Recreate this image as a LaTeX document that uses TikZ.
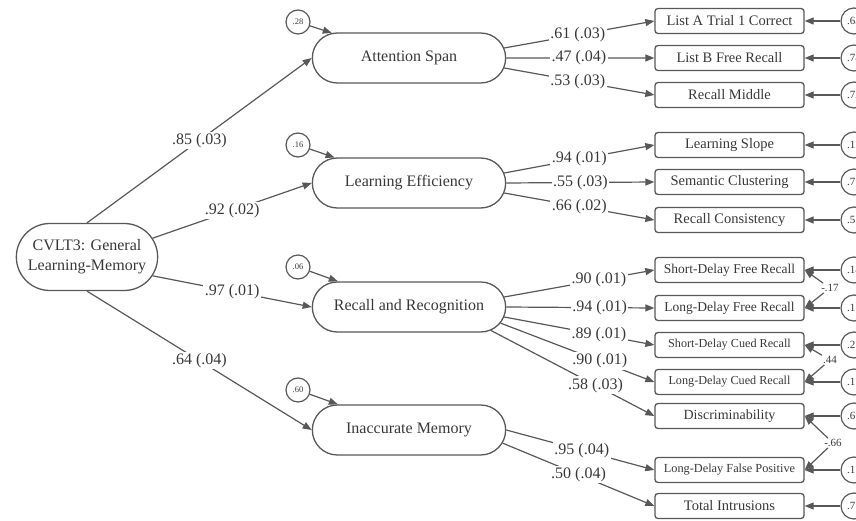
\documentclass[tikz,border=0pt]{standalone}
\usepackage{fontspec}
\setmainfont{Liberation Serif}
\usetikzlibrary{shapes.misc,arrows.meta}
\definecolor{ink}{HTML}{383838}
\definecolor{edge}{HTML}{585858}

\begin{document}
\begin{tikzpicture}
  [x=1pt,y=-1pt,every node/.style={text=ink},
   latent/.style={rounded rectangle,draw=edge,line width=1.3pt,minimum width=200pt,minimum height=50pt,font=\fontsize{16}{20}\selectfont},
   ind/.style={rectangle,rounded corners=3pt,draw=edge,line width=1.3pt,minimum width=149pt,minimum height=25pt,inner sep=1pt},
   err/.style={circle,draw=edge,line width=1.2pt,minimum size=24pt,inner sep=0pt,font=\fontsize{8.5}{9}\selectfont},
   rerr/.style={circle,draw=edge,line width=1.2pt,minimum size=26pt,inner sep=0pt,font=\fontsize{11}{12}\selectfont},
   load/.style={fill=white,inner sep=1.5pt,font=\fontsize{16}{18}\selectfont},
   corr/.style={inner sep=1pt,font=\fontsize{11}{12}\selectfont},
   arr/.style={draw=edge,line width=1.2pt,-{Triangle[length=9pt,width=7pt]}}]
  \useasboundingbox (0,0) rectangle (856,521);

  % general factor and the four latents
  \node[latent,minimum width=148pt,minimum height=67pt,align=center] (gen) at (87,257) {CVLT3: General\\Learning-Memory};
  \node[latent] (as) at (409,58)  {Attention Span};
  \node[latent] (le) at (409,183) {Learning Efficiency};
  \node[latent] (rr) at (409,307) {Recall and Recognition};
  \node[latent] (im) at (409,430) {Inaccurate Memory};

  \node[err] (e1) at (298,22)  {.28};
  \node[err] (e2) at (298,145) {.16};
  \node[err] (e3) at (298,267) {.06};
  \node[err] (e4) at (298,390) {.60};

  % observed measures
  \foreach \i/\y/\f/\t in {1/21/14.5/List A Trial 1 Correct,2/58/14.5/List B Free Recall,3/95/14.5/Recall Middle,
      4/145/14.5/Learning Slope,5/182/14.5/Semantic Clustering,6/220/14.5/Recall Consistency,
      7/270/13.5/Short-Delay Free Recall,8/308/13.5/Long-Delay Free Recall,9/345/12.2/Short-Delay Cued Recall,
      10/382/12.2/Long-Delay Cued Recall,11/416/14/Discriminability,12/470/12.3/Long-Delay False Positive,
      13/506/14.5/Total Intrusions}
    \node[ind,font=\fontsize{\f}{\f}\selectfont] (b\i) at (729.5,\y) {\t};

  \foreach \i/\y/\v in {1/21/.63,2/58/.78,3/95/.72,4/145/.11,5/182/.7,6/220/.5,7/270/.18,
      8/308/.1,9/345/.2,10/382/.1,11/416/.6,12/470/.1,13/506/.7}
    \node[rerr] (r\i) at (854,\y) {\makebox[14pt][l]{\v}};

  \node[corr] (k1) at (830,288) {-.17};
  \node[corr] (k2) at (830,360) {.44};
  \node[corr] (k3) at (833,443) {-.66};

  % second order loadings
  \draw[arr] (gen.north) -- node[load]{.85 (.03)} (as.west);
  \draw[arr] (gen.16)    -- node[load]{.92 (.02)} (le.west);
  \draw[arr] (gen.-16)   -- node[load]{.97 (.01)} (rr.west);
  \draw[arr] (gen.south) -- node[load]{.64 (.04)} (im.west);

  \foreach \e/\l in {e1/as,e2/le,e3/rr,e4/im}
    \draw[arr] (\e) -- (\l);

  % first order loadings
  \foreach \from/\to/\v/\p in {as.6/b1/.61 (.03)/.49,as.0/b2/.47 (.04)/.49,as.-6/b3/.53 (.03)/.49,
      le.6/b4/.94 (.01)/.5,le.0/b5/.55 (.03)/.5,le.-6/b6/.66 (.02)/.5,
      rr.6/b7/.90 (.01)/.63,rr.0/b8/.94 (.01)/.63,rr.-6/b9/.89 (.01)/.63,rr.-10/b10/.90 (.01)/.645,rr.-16/b11/.58 (.03)/.64,
      im.0/b12/.95 (.04)/.51,im.-8/b13/.50 (.04)/.5}
    \draw[arr] (\from) -- node[load,pos=\p]{\v} (\to.west);

  \foreach \i in {1,...,13}
    \draw[arr] (r\i) -- (b\i.east);

  % residual correlations
  \foreach \k/\a/\b in {k1/b7/b8,k2/b9/b10,k3/b11/b12}{
    \draw[arr] (\k) -- (\a.east);
    \draw[arr] (\k) -- (\b.east);
  }
\end{tikzpicture}
\end{document}
